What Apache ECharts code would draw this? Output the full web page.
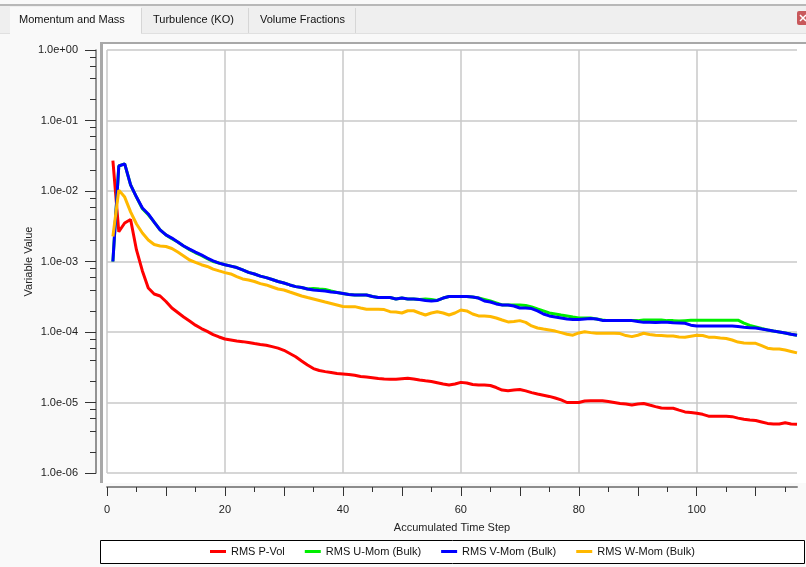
<!DOCTYPE html>
<html>
<head>
<meta charset="utf-8">
<script src="https://cdn.jsdelivr.net/npm/echarts@6/dist/echarts.min.js"></script>
<style>
html,body{margin:0;padding:0;background:#f9f9f9;}
#chart{width:806px;height:567px;}
</style>
</head>
<body>
<div id="chart"></div>
<script>
// ---------- data ----------
const steps = [1,2,3,4,5,6,7,8,9,10,11,12,13,14,15,16,17,18,19,20,21,22,23,24,25,26,27,28,29,30,
31,32,33,34,35,36,37,38,39,40,41,42,43,44,45,46,47,48,49,50,51,52,53,54,55,56,57,58,59,60,
61,62,63,64,65,66,67,68,69,70,71,72,73,74,75,76,77,78,79,80,81,82,83,84,85,86,87,88,89,90,
91,92,93,94,95,96,97,98,99,100,101,102,103,104,105,106,107,108,109,110,111,112,113,114,115,116,117];

const seriesNames = ['RMS P-Vol', 'RMS U-Mom (Bulk)', 'RMS V-Mom (Bulk)', 'RMS W-Mom (Bulk)'];

const pVol = [2.69e-2,2.64e-3,3.52e-3,3.95e-3,1.46e-3,7.35e-4,4.21e-4,3.46e-4,3.24e-4,2.71e-4,
2.19e-4,1.89e-4,1.63e-4,1.43e-4,1.25e-4,1.12e-4,1.02e-4,9.2e-5,8.5e-5,7.95e-5,
7.7e-5,7.45e-5,7.3e-5,7.1e-5,6.85e-5,6.65e-5,6.5e-5,6.2e-5,5.9e-5,5.5e-5,
4.95e-5,4.45e-5,3.88e-5,3.4e-5,3.03e-5,2.84e-5,2.74e-5,2.66e-5,2.58e-5,2.54e-5,
2.5e-5,2.43e-5,2.34e-5,2.3e-5,2.25e-5,2.19e-5,2.15e-5,2.14e-5,2.14e-5,2.17e-5,
2.2e-5,2.15e-5,2.08e-5,2.03e-5,1.99e-5,1.91e-5,1.83e-5,1.77e-5,1.83e-5,1.93e-5,
1.89e-5,1.8e-5,1.77e-5,1.77e-5,1.74e-5,1.63e-5,1.5e-5,1.47e-5,1.5e-5,1.53e-5,
1.46e-5,1.38e-5,1.32e-5,1.27e-5,1.22e-5,1.16e-5,1.09e-5,1.0e-5,1.0e-5,1.0e-5,
1.05e-5,1.06e-5,1.06e-5,1.06e-5,1.03e-5,1.0e-5,9.7e-6,9.5e-6,9.2e-6,9.5e-6,
9.7e-6,9.2e-6,8.75e-6,8.35e-6,8.3e-6,8.3e-6,7.8e-6,7.35e-6,7.2e-6,7.05e-6,
6.8e-6,6.4e-6,6.4e-6,6.4e-6,6.4e-6,6.3e-6,6.0e-6,5.8e-6,5.65e-6,5.55e-6,
5.3e-6,5.05e-6,4.95e-6,4.95e-6,5.15e-6,4.95e-6,4.9e-6];

const uMom = [1.0e-3,2.26e-2,2.42e-2,1.22e-2,8.2e-3,5.6e-3,4.6e-3,3.63e-3,2.8e-3,2.38e-3,
2.1e-3,1.89e-3,1.66e-3,1.47e-3,1.33e-3,1.22e-3,1.1e-3,1.0e-3,9.5e-4,9.0e-4,
8.6e-4,8.2e-4,7.6e-4,7.0e-4,6.65e-4,6.2e-4,5.9e-4,5.55e-4,5.2e-4,4.95e-4,
4.65e-4,4.4e-4,4.27e-4,4.07e-4,4.15e-4,4.07e-4,4.0e-4,3.81e-4,3.63e-4,3.52e-4,
3.4e-4,3.35e-4,3.35e-4,3.35e-4,3.19e-4,3.08e-4,3.08e-4,3.08e-4,2.94e-4,3.03e-4,
2.94e-4,2.94e-4,2.89e-4,2.94e-4,2.89e-4,2.8e-4,3.03e-4,3.19e-4,3.19e-4,3.19e-4,
3.19e-4,3.13e-4,3.03e-4,2.89e-4,2.75e-4,2.58e-4,2.42e-4,2.42e-4,2.42e-4,2.42e-4,
2.38e-4,2.26e-4,2.12e-4,1.99e-4,1.86e-4,1.8e-4,1.74e-4,1.69e-4,1.63e-4,1.58e-4,
1.58e-4,1.58e-4,1.53e-4,1.48e-4,1.45e-4,1.45e-4,1.45e-4,1.45e-4,1.45e-4,1.45e-4,
1.48e-4,1.48e-4,1.48e-4,1.48e-4,1.45e-4,1.45e-4,1.43e-4,1.45e-4,1.47e-4,1.47e-4,
1.47e-4,1.47e-4,1.47e-4,1.47e-4,1.47e-4,1.47e-4,1.47e-4,1.34e-4,1.24e-4,1.18e-4,
1.12e-4,1.07e-4,1.03e-4,1.0e-4,9.7e-5,9.3e-5,9.0e-5];

const vMom = [1.0e-3,2.26e-2,2.42e-2,1.22e-2,8.2e-3,5.75e-3,4.72e-3,3.63e-3,2.8e-3,2.38e-3,
2.15e-3,1.89e-3,1.66e-3,1.5e-3,1.36e-3,1.24e-3,1.12e-3,1.02e-3,9.5e-4,9.0e-4,
8.6e-4,8.2e-4,7.6e-4,7.0e-4,6.65e-4,6.2e-4,5.9e-4,5.55e-4,5.2e-4,4.95e-4,
4.65e-4,4.4e-4,4.27e-4,4.07e-4,3.94e-4,3.87e-4,3.81e-4,3.69e-4,3.63e-4,3.52e-4,
3.4e-4,3.35e-4,3.35e-4,3.35e-4,3.19e-4,3.08e-4,3.08e-4,3.08e-4,2.94e-4,3.03e-4,
2.94e-4,2.94e-4,2.89e-4,2.8e-4,2.75e-4,2.8e-4,3.03e-4,3.19e-4,3.19e-4,3.19e-4,
3.19e-4,3.13e-4,3.03e-4,2.75e-4,2.66e-4,2.5e-4,2.42e-4,2.42e-4,2.34e-4,2.19e-4,
2.19e-4,2.15e-4,1.99e-4,1.8e-4,1.69e-4,1.63e-4,1.58e-4,1.53e-4,1.5e-4,1.5e-4,
1.53e-4,1.55e-4,1.53e-4,1.46e-4,1.45e-4,1.45e-4,1.45e-4,1.45e-4,1.45e-4,1.41e-4,
1.37e-4,1.37e-4,1.36e-4,1.37e-4,1.37e-4,1.35e-4,1.34e-4,1.33e-4,1.25e-4,1.22e-4,
1.22e-4,1.22e-4,1.22e-4,1.22e-4,1.22e-4,1.22e-4,1.2e-4,1.17e-4,1.15e-4,1.14e-4,
1.1e-4,1.07e-4,1.03e-4,1.0e-4,9.7e-5,9.3e-5,9.0e-5];

const wMom = [2.26e-3,1.03e-2,8.2e-3,5.05e-3,3.4e-3,2.54e-3,2.02e-3,1.74e-3,1.66e-3,1.63e-3,
1.53e-3,1.36e-3,1.2e-3,1.05e-3,9.7e-4,9.0e-4,8.5e-4,7.8e-4,7.35e-4,6.95e-4,
6.65e-4,6.1e-4,5.65e-4,5.47e-4,5.2e-4,4.85e-4,4.65e-4,4.35e-4,4.07e-4,3.94e-4,
3.69e-4,3.46e-4,3.24e-4,3.08e-4,2.94e-4,2.8e-4,2.66e-4,2.54e-4,2.42e-4,2.3e-4,
2.29e-4,2.29e-4,2.19e-4,2.1e-4,2.1e-4,2.1e-4,2.08e-4,1.94e-4,1.92e-4,1.86e-4,
2.0e-4,2.0e-4,1.86e-4,1.74e-4,1.86e-4,1.94e-4,1.86e-4,1.74e-4,1.86e-4,2.05e-4,
1.99e-4,1.8e-4,1.69e-4,1.69e-4,1.66e-4,1.58e-4,1.48e-4,1.39e-4,1.41e-4,1.45e-4,
1.37e-4,1.22e-4,1.14e-4,1.1e-4,1.07e-4,1.03e-4,9.8e-5,9.3e-5,9.0e-5,9.7e-5,
1.01e-4,9.8e-5,9.6e-5,9.6e-5,9.6e-5,9.6e-5,9.5e-5,8.9e-5,8.6e-5,9.0e-5,
9.6e-5,9.2e-5,9.0e-5,8.9e-5,8.75e-5,8.75e-5,8.5e-5,8.4e-5,8.7e-5,9.0e-5,
8.9e-5,8.45e-5,8.4e-5,8.2e-5,8.1e-5,7.7e-5,7.2e-5,7.0e-5,6.95e-5,6.9e-5,
6.4e-5,5.9e-5,5.75e-5,5.75e-5,5.55e-5,5.3e-5,5.05e-5];

const xMajorTicks = [0,10,20,30,40,50,60,70,80,90,100,110];
const xMinorTicks = [5,15,25,35,45,55,65,75,85,95,105,115];
const yMinorTicks = [2e-6,4e-6,6e-6,8e-6,2e-5,4e-5,6e-5,8e-5,2e-4,4e-4,6e-4,8e-4,
                     2e-3,4e-3,6e-3,8e-3,2e-2,4e-2,6e-2,8e-2,2e-1,4e-1,6e-1,8e-1];
const tabLabels = ['Momentum and Mass', 'Turbulence (KO)', 'Volume Fractions'];
const colors = ['#ff0000', '#00ee00', '#0000ff', '#ffb800'];

// ---------- chart ----------
const FONT = "'Liberation Sans', Arial, sans-serif";
const chart = echarts.init(document.getElementById('chart'), null, {renderer: 'canvas'});

function yFmt(v) {
  const e = Math.round(Math.log10(v));
  return '1.0e' + (e < 0 ? '-' : '+') + String(Math.abs(e)).padStart(2, '0');
}

const allSeries = [pVol, uMom, vMom, wMom];
const Y_OFFSET = 11;

const baseGraphic = [
  // tab strip
  {id: 'g1', type: 'rect', z: -10, shape: {x: 0, y: 4, width: 806, height: 2}, style: {fill: '#b8b8b8'}},
  {id: 'g2', type: 'rect', z: -10, shape: {x: 0, y: 6, width: 806, height: 27}, style: {fill: '#efefef'}},
  {id: 'g3', type: 'rect', z: -10, shape: {x: 0, y: 33, width: 806, height: 1}, style: {fill: '#e0e0e0'}},
  {id: 'g4', type: 'rect', z: -9, shape: {x: 10, y: 7, width: 131, height: 28}, style: {fill: '#f9f9f9'}},
  {id: 'g5', type: 'rect', z: -9, shape: {x: 141, y: 8, width: 1, height: 25}, style: {fill: '#d6d6d6'}},
  {id: 'g6', type: 'rect', z: -9, shape: {x: 248, y: 8, width: 1, height: 25}, style: {fill: '#d6d6d6'}},
  {id: 'g7', type: 'rect', z: -9, shape: {x: 355, y: 8, width: 1, height: 25}, style: {fill: '#d6d6d6'}},
  {id: 't1', type: 'text', z: -8, x: 19, y: 20, style: {text: tabLabels[0], font: '11px ' + FONT, fill: '#111', verticalAlign: 'middle'}},
  {id: 't2', type: 'text', z: -8, x: 153, y: 20, style: {text: tabLabels[1], font: '11px ' + FONT, fill: '#111', verticalAlign: 'middle'}},
  {id: 't3', type: 'text', z: -8, x: 260, y: 20, style: {text: tabLabels[2], font: '11px ' + FONT, fill: '#111', verticalAlign: 'middle'}},
  // close icon
  {id: 'c1', type: 'rect', z: -8, shape: {x: 797, y: 11, width: 12, height: 14, r: 2}, style: {fill: '#c8585b'}},
  {id: 'c2', type: 'line', z: -7, shape: {x1: 800, y1: 15, x2: 806, y2: 21}, style: {stroke: '#fff', lineWidth: 1.5}},
  {id: 'c3', type: 'line', z: -7, shape: {x1: 806, y1: 15, x2: 800, y2: 21}, style: {stroke: '#fff', lineWidth: 1.5}},
  // plot panel
  {id: 'p1', type: 'rect', z: -10, shape: {x: 100, y: 42, width: 706, height: 441}, style: {fill: '#ffffff'}},
  {id: 'p2', type: 'rect', z: -9, shape: {x: 100, y: 42, width: 3, height: 441}, style: {fill: '#a8a8a8'}},
  {id: 'p3', type: 'rect', z: -9, shape: {x: 100, y: 42, width: 706, height: 2}, style: {fill: '#a8a8a8'}},
  // legend box
  {id: 'l1', type: 'rect', z: -9, shape: {x: 100.5, y: 540.5, width: 704, height: 23}, style: {fill: '#ffffff', stroke: '#000000', lineWidth: 1}}
];

const option = {
  animation: false,
  backgroundColor: '#f9f9f9',
  textStyle: {fontFamily: FONT},
  grid: {left: 107, top: 50, right: 9, bottom: 94, containLabel: false},
  legend: {
    data: seriesNames,
    left: 210,
    top: 546,
    padding: 0,
    itemGap: 20,
    itemWidth: 16,
    itemHeight: 3,
    icon: 'rect',
    textStyle: {fontFamily: FONT, fontSize: 11, color: '#111'}
  },
  xAxis: [
    {
      type: 'value', min: 0, max: 117, interval: 20, position: 'bottom', offset: 14,
      axisLine: {show: true, onZero: false, lineStyle: {color: '#8c8c8c', width: 2}},
      axisTick: {show: false},
      axisLabel: {margin: 17, fontSize: 11, color: '#222', fontFamily: FONT,
        formatter: v => (v % 20 === 0 ? String(v) : '')},
      splitLine: {show: true, showMaxLine: false, lineStyle: {color: '#c8c8c8', width: 1.5}},
      name: 'Accumulated Time Step', nameLocation: 'middle', nameGap: 35,
      nameTextStyle: {fontSize: 11, color: '#222', fontFamily: FONT}
    },
    {
      type: 'value', min: 0, max: 117, position: 'bottom', offset: 14,
      axisLine: {show: false, onZero: false}, axisLabel: {show: false}, splitLine: {show: false},
      axisTick: {show: true, length: 9, customValues: xMajorTicks, lineStyle: {color: '#333', width: 1}}
    },
    {
      type: 'value', min: 0, max: 117, position: 'bottom', offset: 14,
      axisLine: {show: false, onZero: false}, axisLabel: {show: false}, splitLine: {show: false},
      axisTick: {show: true, length: 5, customValues: xMinorTicks, lineStyle: {color: '#333', width: 1}}
    }
  ],
  yAxis: [
    {
      type: 'log', logBase: 10, min: 1e-6, max: 1, position: 'left', offset: Y_OFFSET,
      axisLine: {show: true, onZero: false, lineStyle: {color: '#707070', width: 1.5}},
      axisTick: {show: true, length: 11, lineStyle: {color: '#333', width: 1}},
      axisLabel: {margin: 18, fontSize: 11, color: '#222', fontFamily: FONT, formatter: yFmt},
      splitLine: {show: true, lineStyle: {color: '#c8c8c8', width: 1.5}},
      name: 'Variable Value', nameLocation: 'middle', nameGap: 62, nameRotate: 90,
      nameMoveOverlap: false,
      nameTextStyle: {fontSize: 11, color: '#222', fontFamily: FONT}
    }
  ],
  graphic: baseGraphic,
  series: seriesNames.map((name, k) => ({
    name: name,
    type: 'line',
    xAxisIndex: 0,
    yAxisIndex: 0,
    showSymbol: false,
    symbol: 'none',
    silent: true,
    color: colors[k],
    lineStyle: {color: colors[k], width: 3},
    data: steps.map((s, i) => [s, allSeries[k][i]])
  }))
};
chart.setOption(option);

// minor ticks of the log y axis, placed through the axis scale
const axisX = chart.convertToPixel({xAxisIndex: 0}, 0) - Y_OFFSET;
const minorTickEls = yMinorTicks.map((v, i) => {
  const py = Math.round(chart.convertToPixel({yAxisIndex: 0}, v)) + 0.5;
  return {id: 'ym' + i, type: 'line', z: 5,
    shape: {x1: axisX - 6, y1: py, x2: axisX, y2: py},
    style: {stroke: '#333', lineWidth: 1}};
});
chart.setOption({graphic: baseGraphic.concat(minorTickEls)});
</script>
</body>
</html>
